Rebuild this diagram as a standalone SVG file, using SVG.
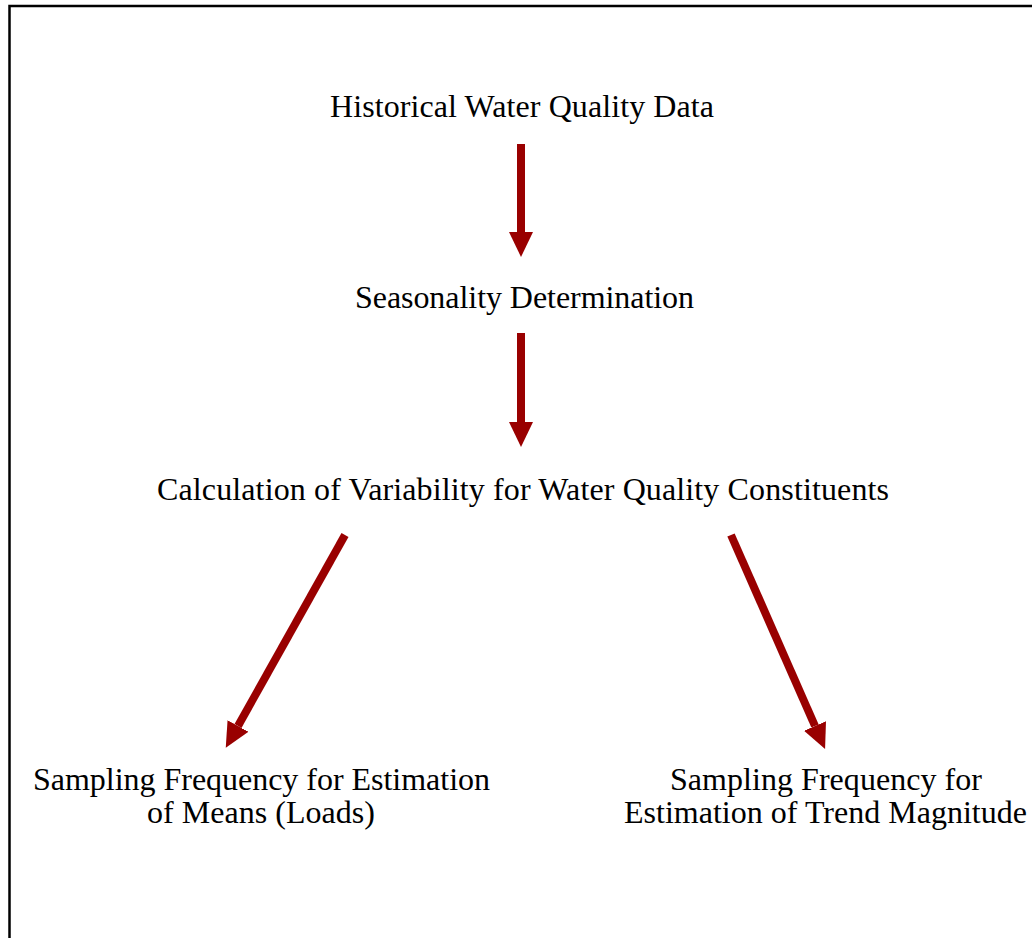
<svg xmlns="http://www.w3.org/2000/svg" width="1032" height="938" viewBox="0 0 1032 938">
<style>
text{font-family:"Liberation Serif","Times New Roman",serif;font-size:32px;fill:#000;text-anchor:middle}
.conn line{stroke:#990000;stroke-width:8;stroke-linecap:butt}
</style>
<defs>
<marker id="ah" markerUnits="userSpaceOnUse" markerWidth="26" markerHeight="26" viewBox="0 0 26 26" refX="0" refY="13" orient="auto">
<path d="M0,1 L25,13 L0,25 Z" fill="#990000"/>
</marker>
</defs>
<rect x="0" y="0" width="1032" height="938" fill="#fff"/>
<path d="M9.5,938 V6 H1032" fill="none" stroke="#000" stroke-width="2.5"/>
<g id="n1"><text x="522" y="117" textLength="384">Historical Water Quality Data</text></g>
<g id="n2"><text x="524.5" y="308" textLength="339">Seasonality Determination</text></g>
<g id="n3"><text x="523" y="500" textLength="732">Calculation of Variability for Water Quality Constituents</text></g>
<g id="n4"><text x="261.5" y="790" textLength="457">Sampling Frequency for Estimation</text><text x="261" y="823" textLength="228">of Means (Loads)</text></g>
<g id="n5"><text x="826" y="790" textLength="312">Sampling Frequency for</text><text x="825.5" y="823" textLength="403">Estimation of Trend Magnitude</text></g>
<g class="conn" id="connectors">
<line x1="521" y1="144" x2="521" y2="232" marker-end="url(#ah)"/>
<line x1="521" y1="333" x2="521" y2="422" marker-end="url(#ah)"/>
<line x1="345" y1="535" x2="238" y2="726" marker-end="url(#ah)"/>
<line x1="731" y1="535" x2="815" y2="726" marker-end="url(#ah)"/>
</g>
</svg>
